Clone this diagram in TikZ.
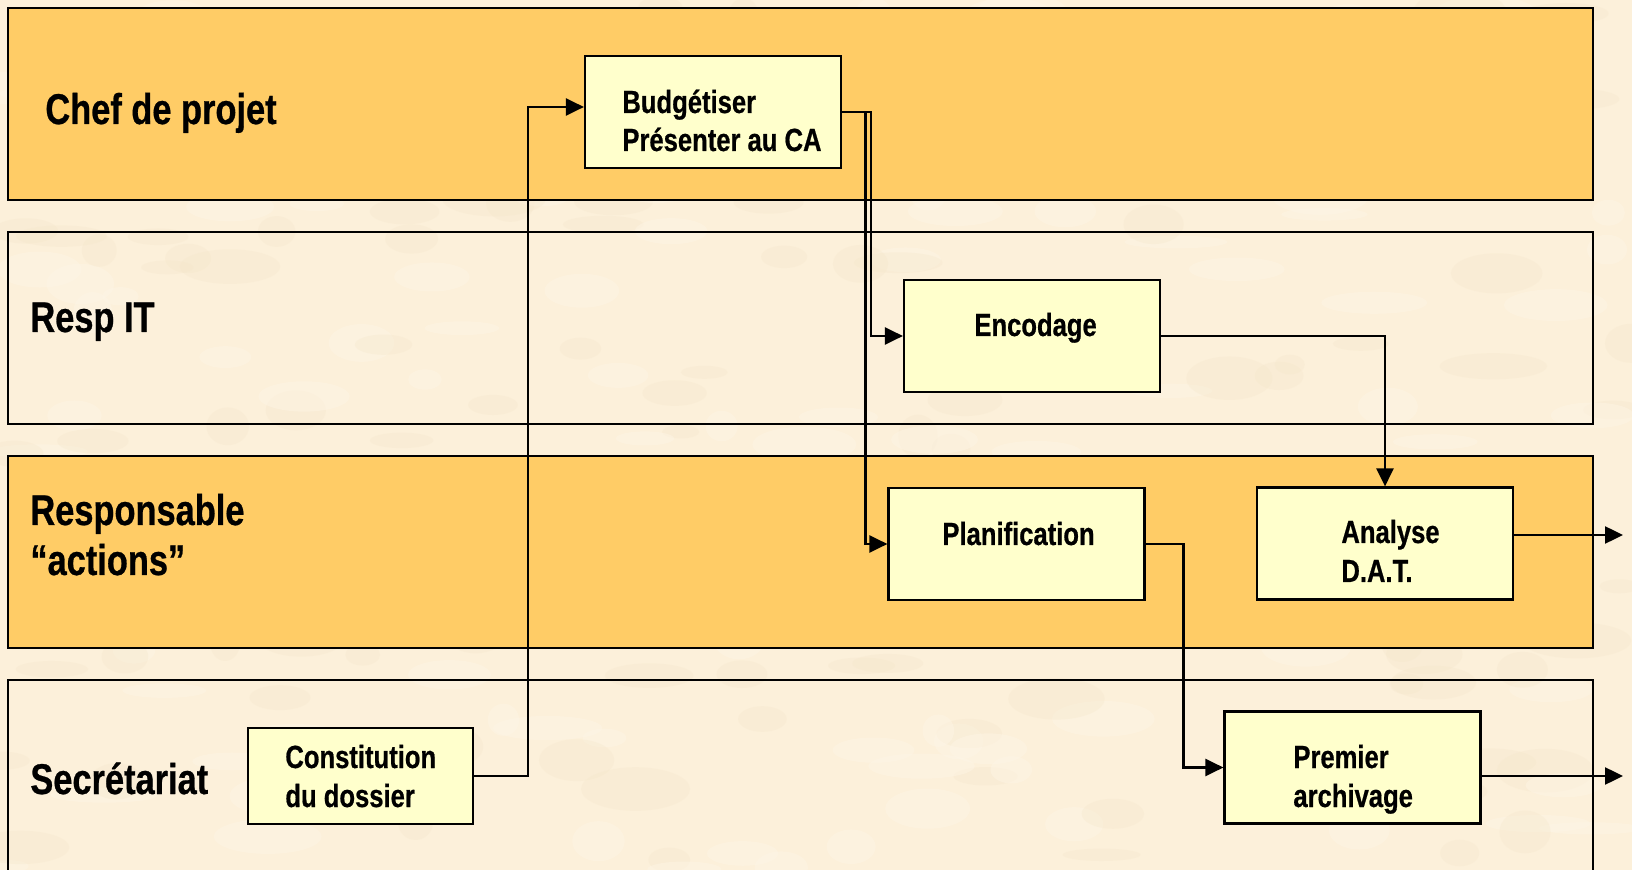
\documentclass[tikz,border=0pt]{standalone}
\usepackage{fontspec}
\setmainfont{Liberation Sans}[FakeStretch=0.8,FakeBold=0.6]
\usetikzlibrary{arrows.meta}
\definecolor{parchment}{HTML}{FCF0DA}
\definecolor{parchdark}{HTML}{F5E6CA}
\definecolor{parchlight}{HTML}{FEF6E8}
\definecolor{laneorange}{HTML}{FFCC66}
\definecolor{boxfill}{HTML}{FFFFCC}
\begin{document}
\begin{tikzpicture}[x=0.5pt,y=-0.5pt,
  lane/.style={draw, line width=1.1pt, rectangle, minimum width=792.5pt, minimum height=96pt, inner sep=0pt},
  hilane/.style={lane, fill=laneorange},
  task/.style={draw, line width=1.1pt, fill=boxfill, rectangle, minimum width=128pt, minimum height=56pt, inner sep=0pt},
  lanelabel/.style={anchor=base west, inner sep=0pt, font=\fontsize{21.5}{25}\selectfont\bfseries},
  tasklabel/.style={anchor=base west, inner sep=0pt, font=\fontsize{16}{19.5}\selectfont\bfseries},
  conn/.style={line width=1.2pt, -{Triangle[length=9pt,width=8.5pt]}}
]
% page and parchment background
\useasboundingbox (0,0) rectangle (1632,870);
\clip (0,0) rectangle (1632,870);
\fill[parchment] (0,0) rectangle (1632,870);
\pgfmathsetseed{11}
\foreach \i in {1,...,260}{
  \pgfmathsetmacro\px{rnd*1632}
  \pgfmathsetmacro\py{rnd*870}
  \pgfmathsetmacro\rx{15+rnd*40}
  \pgfmathsetmacro\ry{6+rnd*16}
  \pgfmathparse{rnd>0.5 ? 1 : 0}
  \ifnum\pgfmathresult=1
    \fill[parchdark, opacity=0.3] (\px,\py) ellipse ({\rx} and {\ry});
  \else
    \fill[parchlight, opacity=0.4] (\px,\py) ellipse ({\rx} and {\ry});
  \fi
}

% swimlanes
\node[hilane] (lane1) at (800.5,104) {};
\node[lane]   (lane2) at (800.5,328) {};
\node[hilane] (lane3) at (800.5,552) {};
\node[lane]   (lane4) at (800.5,776) {};

\node[lanelabel] (lab1) at (45,124) {Chef de projet};
\node[lanelabel] (lab2) at (30,332) {Resp IT};
\node[lanelabel] (lab3) at (30,525) {\begin{tabular}[t]{@{}l@{}}Responsable\\“actions”\end{tabular}};
\node[lanelabel] (lab4) at (30,794) {Secrétariat};

% tasks
\node[task] (budget)  at (713,112) {};
\node[task] (enc)     at (1032,336) {};
\node[task] (plan)    at (1016.5,544) {};
\node[task] (analyse) at (1385,543.5) {};
\node[task] (archive) at (1352.5,767.5) {};
\node[task, minimum width=112.5pt, minimum height=48pt] (constit) at (360.5,776) {};

\node[tasklabel, font=\fontsize{16}{19}\selectfont\bfseries] (budget-t) at (622,113) {\begin{tabular}[t]{@{}l@{}}Budgétiser\\Présenter au CA\end{tabular}};
\node[tasklabel] (enc-t)     at (974,336)  {Encodage};
\node[tasklabel] (plan-t)    at (942,545)  {Planification};
\node[tasklabel] (analyse-t) at (1341,543) {\begin{tabular}[t]{@{}l@{}}Analyse\\D.A.T.\end{tabular}};
\node[tasklabel] (archive-t) at (1293,768) {\begin{tabular}[t]{@{}l@{}}Premier\\archivage\end{tabular}};
\node[tasklabel] (constit-t) at (285,768)  {\begin{tabular}[t]{@{}l@{}}Constitution\\du dossier\end{tabular}};

% flow
\coordinate (outA) at (1623,535);
\coordinate (outB) at (1623,776);
\draw[conn] (constit.east) -| ([yshift=2.5pt,xshift=-28pt]budget.west) -- ([yshift=2.5pt]budget.west);
\draw[conn] (budget.east) -| ([xshift=-11pt]plan.west) -- (plan.west);
\draw[conn] (budget.east) -| ([xshift=-16pt]enc.west) -- (enc.west);
\draw[conn] (enc.east) -| (analyse.north);
\draw[conn] (plan.east) -| ([xshift=-20pt]archive.west) -- (archive.west);
\draw[conn] (analyse.east |- outA) -- (outA);
\draw[conn] (archive.east |- outB) -- (outB);
\end{tikzpicture}
\end{document}
